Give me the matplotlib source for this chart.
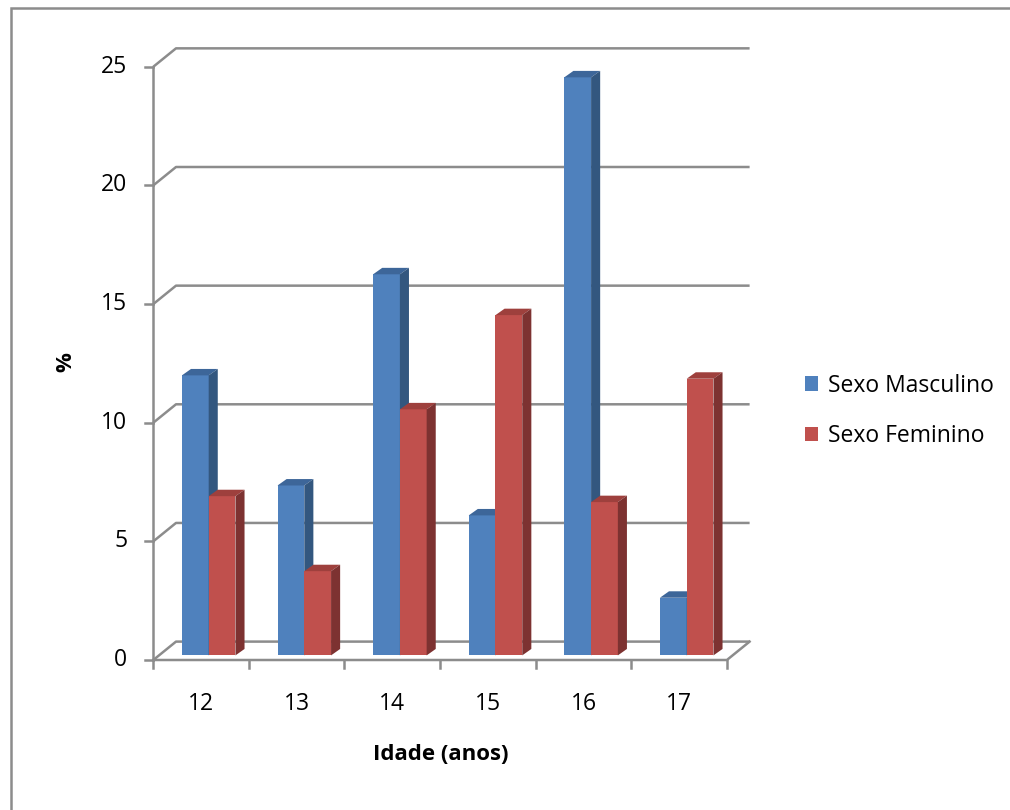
import numpy as np
import matplotlib.pyplot as plt
from matplotlib.patches import Polygon, Patch, Rectangle

plt.rcParams['font.family'] = ['Open Sans', 'DejaVu Sans']

idades = ['12', '13', '14', '15', '16', '17']
masculino = [11.8, 7.16, 16.06, 5.9, 24.36, 2.43]
feminino = [6.71, 3.55, 10.37, 14.34, 6.46, 11.66]
series = ['Sexo Masculino', 'Sexo Feminino']
yticks = [0, 5, 10, 15, 20, 25]

# colours: front, top, side
cores = [('#4F81BD', '#3D6699', '#33577F'),
         ('#C0504D', '#9E403D', '#7D3231')]
grade = '#8C8C8C'
fs = 16.5

W, H = 1010, 810
fig = plt.figure(figsize=(W / 100, H / 100), dpi=100)
ax = fig.add_axes([0, 0, 1, 1])

# pixel scale of the front plane
x0, y0 = 153.3, 150.0
px_cat, px_val = 95.6, 23.73
ax.set_xlim(-x0 / px_cat, (W - x0) / px_cat)
ax.set_ylim(-y0 / px_val, (H - y0) / px_val)
ax.axis('off')

n = len(idades)
ymax = yticks[-1]
# oblique depth of the walls
back_dx, back_dy = 22.7 / px_cat, 18.4 / px_val
# bars sit a bit behind the front edge, 0.4 of the depth deep
fx, fy = 0.25 * back_dx, 0.25 * back_dy
bdx, bdy = 0.4 * back_dx, 0.35 * back_dy
w = 0.28

# back wall gridlines + side wall diagonals
for v in yticks:
    ax.plot([0, back_dx, n + back_dx], [v, v + back_dy, v + back_dy],
            color=grade, lw=1.8, zorder=1, solid_capstyle='butt')
    ax.plot([-8 / px_cat, 0], [v, v], color=grade, lw=1.8, zorder=1)
    ax.text(-0.27, v, str(v), ha='right', va='center', fontsize=fs)

# floor and axes
ax.plot([0, 0], [0, ymax], color=grade, lw=1.8, zorder=1)
ax.plot([0, n, n + back_dx], [0, 0, back_dy], color=grade, lw=1.8, zorder=1)
for i in range(n + 1):
    ax.plot([i, i], [0, -8 / px_val], color=grade, lw=1.8, zorder=1)
for i, lab in enumerate(idades):
    ax.text(i + 0.5, -44 / px_val, lab, ha='center', va='center', fontsize=fs)

# 3d columns
for s, dados in enumerate([masculino, feminino]):
    frente, topo, lado = cores[s]
    esq = np.arange(n) + 0.52 - w + s * w + fx
    ax.bar(esq, dados, width=w, bottom=fy, align='edge', color=frente,
           zorder=3 + s)
    for l, v in zip(esq, dados):
        t = fy + v
        ax.add_patch(Polygon([(l, t), (l + w, t), (l + w + bdx, t + bdy), (l + bdx, t + bdy)],
                             closed=True, facecolor=topo, edgecolor='none', zorder=3 + s))
        ax.add_patch(Polygon([(l + w, fy), (l + w + bdx, fy + bdy), (l + w + bdx, t + bdy), (l + w, t)],
                             closed=True, facecolor=lado, edgecolor='none', zorder=3 + s))

fig.text(66 / W, 1 - 362 / H, '%', rotation=90, ha='center', va='center',
         fontsize=16, fontweight='bold')
fig.text(441 / W, 1 - 755 / H, 'Idade (anos)', ha='center', va='center',
         fontsize=16, fontweight='bold')

handles = [Patch(facecolor=cores[k][0], edgecolor='none') for k in range(2)]
fig.legend(handles, series, loc='center left', bbox_to_anchor=(784 / W, 1 - 411 / H),
           frameon=False, fontsize=fs, handlelength=0.6, handleheight=0.6,
           handletextpad=0.4, labelspacing=1.15)

# chart area border
fig.patches.append(Rectangle((11 / W, -0.1), 1.2, 1 - 8 / H + 0.1, transform=fig.transFigure,
                             fill=False, edgecolor='#8C8C8C', lw=1.8))

fig.savefig('out.png', dpi=100)
